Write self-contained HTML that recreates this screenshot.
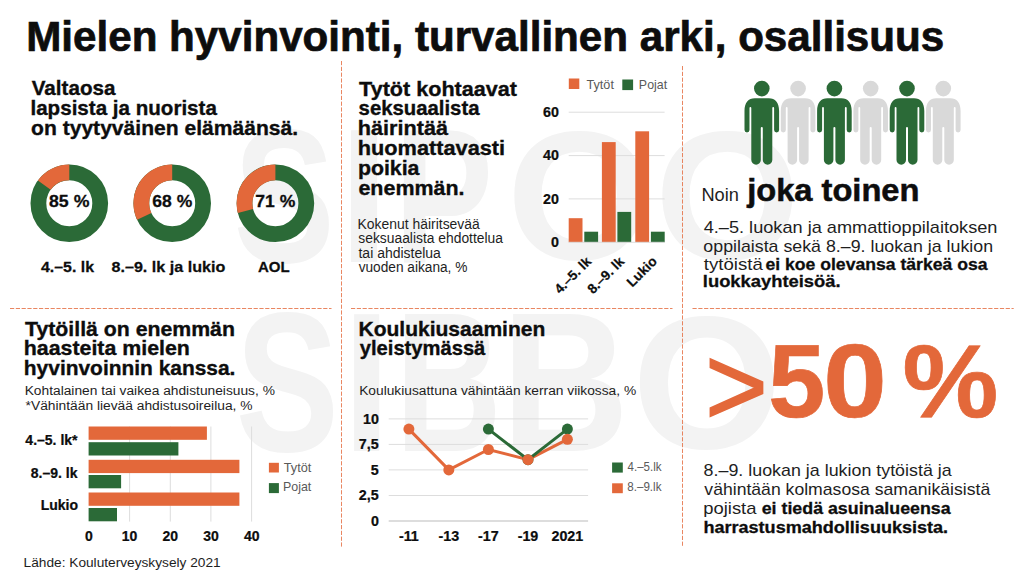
<!DOCTYPE html>
<html><head><meta charset="utf-8"><title>Mielen hyvinvointi</title>
<style>
html,body{margin:0;padding:0;background:#fff;}
body{width:1024px;height:579px;overflow:hidden;}
svg{display:block;font-family:"Liberation Sans",Arial,sans-serif;}
</style></head><body>
<svg width="1024" height="579" viewBox="0 0 1024 579">
<text x="233.62" y="262.00" font-size="192" textLength="101.31" lengthAdjust="spacingAndGlyphs" font-weight="bold" stroke="#F3F3F3" fill="#F3F3F3" stroke-width="0">S</text>
<text x="338.93" y="262.00" font-size="192" textLength="50.15" lengthAdjust="spacingAndGlyphs" font-weight="bold" stroke="#F3F3F3" fill="#F3F3F3" stroke-width="0">I</text>
<text x="394.07" y="262.00" font-size="192" textLength="99.00" lengthAdjust="spacingAndGlyphs" font-weight="bold" stroke="#F3F3F3" fill="#F3F3F3" stroke-width="0">P</text>
<text x="506.83" y="259.20" font-size="183.6" textLength="145.53" lengthAdjust="spacingAndGlyphs" font-weight="bold" stroke="#F3F3F3" fill="#F3F3F3" stroke-width="0">O</text>
<text x="654.83" y="259.20" font-size="183.6" textLength="145.53" lengthAdjust="spacingAndGlyphs" font-weight="bold" stroke="#F3F3F3" fill="#F3F3F3" stroke-width="0">O</text>
<text x="235.53" y="451.00" font-size="198" textLength="103.54" lengthAdjust="spacingAndGlyphs" font-weight="bold" stroke="#F3F3F3" fill="#F3F3F3" stroke-width="0">S</text>
<text x="342.39" y="451.00" font-size="198" textLength="48.22" lengthAdjust="spacingAndGlyphs" font-weight="bold" stroke="#F3F3F3" fill="#F3F3F3" stroke-width="0">I</text>
<text x="395.13" y="451.00" font-size="198" textLength="106.57" lengthAdjust="spacingAndGlyphs" font-weight="bold" stroke="#F3F3F3" fill="#F3F3F3" stroke-width="0">B</text>
<text x="501.15" y="451.00" font-size="198" textLength="127.89" lengthAdjust="spacingAndGlyphs" font-weight="bold" stroke="#F3F3F3" fill="#F3F3F3" stroke-width="0">B</text>
<text x="632.09" y="448.20" font-size="189.3" textLength="150.01" lengthAdjust="spacingAndGlyphs" font-weight="bold" stroke="#F3F3F3" fill="#F3F3F3" stroke-width="0">O</text>
<g stroke="#E3683A" stroke-width="1" stroke-dasharray="4.2 1.6" stroke-opacity="0.8" fill="none">
<line x1="341.5" y1="61" x2="341.5" y2="547"/>
<line x1="682.5" y1="66" x2="682.5" y2="547"/>
<line x1="10" y1="308.5" x2="331.5" y2="308.5"/>
<line x1="351" y1="308.5" x2="672.5" y2="308.5"/>
<line x1="692.5" y1="308.5" x2="1013.7" y2="308.5"/>
</g>
<text x="26.28" y="50.70" font-size="42.2" textLength="917.95" lengthAdjust="spacingAndGlyphs" font-weight="bold" stroke="#0d0d0d" stroke-width="0.72" fill="#0d0d0d">Mielen hyvinvointi, turvallinen arki, osallisuus</text>
<text x="31.76" y="95.30" font-size="21" textLength="83.71" lengthAdjust="spacingAndGlyphs" font-weight="bold" stroke="#0d0d0d" stroke-width="0.36" fill="#0d0d0d">Valtaosa</text>
<text x="30.46" y="115.20" font-size="21" textLength="186.41" lengthAdjust="spacingAndGlyphs" font-weight="bold" stroke="#0d0d0d" stroke-width="0.36" fill="#0d0d0d">lapsista ja nuorista</text>
<text x="31.08" y="135.10" font-size="21" textLength="266.97" lengthAdjust="spacingAndGlyphs" font-weight="bold" stroke="#0d0d0d" stroke-width="0.36" fill="#0d0d0d">on tyytyväinen elämäänsä.</text>
<circle cx="69.3" cy="203.3" r="30.90" fill="none" stroke="#2B6A37" stroke-width="15.80"/>
<path d="M37.91,180.49 A38.8,38.8 0 0 1 69.30,164.50 L69.30,180.30 A23.0,23.0 0 0 0 50.69,189.78 Z" fill="#E3683A"/>
<circle cx="172.2" cy="203.3" r="30.90" fill="none" stroke="#2B6A37" stroke-width="15.80"/>
<path d="M137.09,219.82 A38.8,38.8 0 0 1 172.20,164.50 L172.20,180.30 A23.0,23.0 0 0 0 151.39,213.09 Z" fill="#E3683A"/>
<circle cx="275.4" cy="203.3" r="30.90" fill="none" stroke="#2B6A37" stroke-width="15.80"/>
<path d="M237.82,212.95 A38.8,38.8 0 0 1 275.40,164.50 L275.40,180.30 A23.0,23.0 0 0 0 253.12,209.02 Z" fill="#E3683A"/>
<text x="49.04" y="207.30" font-size="17" textLength="40.33" lengthAdjust="spacingAndGlyphs" font-weight="bold" stroke="#0d0d0d" stroke-width="0.29" fill="#0d0d0d">85 %</text>
<text x="152.36" y="207.30" font-size="17" textLength="39.90" lengthAdjust="spacingAndGlyphs" font-weight="bold" stroke="#0d0d0d" stroke-width="0.29" fill="#0d0d0d">68 %</text>
<text x="255.25" y="207.30" font-size="17" textLength="40.02" lengthAdjust="spacingAndGlyphs" font-weight="bold" stroke="#0d0d0d" stroke-width="0.29" fill="#0d0d0d">71 %</text>
<text x="41.01" y="272.20" font-size="15.5" textLength="52.97" lengthAdjust="spacingAndGlyphs" font-weight="bold" stroke="#0d0d0d" stroke-width="0.26" fill="#0d0d0d">4.–5. lk</text>
<text x="111.49" y="272.20" font-size="15.5" textLength="113.84" lengthAdjust="spacingAndGlyphs" font-weight="bold" stroke="#0d0d0d" stroke-width="0.26" fill="#0d0d0d">8.–9. lk ja lukio</text>
<text x="257.93" y="272.20" font-size="15.5" textLength="31.74" lengthAdjust="spacingAndGlyphs" font-weight="bold" stroke="#0d0d0d" stroke-width="0.26" fill="#0d0d0d">AOL</text>
<text x="359.06" y="95.60" font-size="21" textLength="157.91" lengthAdjust="spacingAndGlyphs" font-weight="bold" stroke="#0d0d0d" stroke-width="0.36" fill="#0d0d0d">Tytöt kohtaavat</text>
<text x="358.59" y="115.30" font-size="21" textLength="120.89" lengthAdjust="spacingAndGlyphs" font-weight="bold" stroke="#0d0d0d" stroke-width="0.36" fill="#0d0d0d">seksuaalista</text>
<text x="357.79" y="135.10" font-size="21" textLength="90.26" lengthAdjust="spacingAndGlyphs" font-weight="bold" stroke="#0d0d0d" stroke-width="0.36" fill="#0d0d0d">häirintää</text>
<text x="357.78" y="155.30" font-size="21" textLength="147.36" lengthAdjust="spacingAndGlyphs" font-weight="bold" stroke="#0d0d0d" stroke-width="0.36" fill="#0d0d0d">huomattavasti</text>
<text x="357.90" y="174.80" font-size="21" textLength="61.57" lengthAdjust="spacingAndGlyphs" font-weight="bold" stroke="#0d0d0d" stroke-width="0.36" fill="#0d0d0d">poikia</text>
<text x="358.46" y="195.00" font-size="21" textLength="106.01" lengthAdjust="spacingAndGlyphs" font-weight="bold" stroke="#0d0d0d" stroke-width="0.36" fill="#0d0d0d">enemmän.</text>
<text x="357.56" y="228.70" font-size="13.8" textLength="122.24" lengthAdjust="spacingAndGlyphs" fill="#1e1e1e">Kokenut häiritsevää</text>
<text x="358.31" y="243.00" font-size="13.8" textLength="144.69" lengthAdjust="spacingAndGlyphs" fill="#1e1e1e">seksuaalista ehdottelua</text>
<text x="358.49" y="257.60" font-size="13.8" textLength="82.41" lengthAdjust="spacingAndGlyphs" fill="#1e1e1e">tai ahdistelua</text>
<text x="358.65" y="271.80" font-size="13.8" textLength="108.73" lengthAdjust="spacingAndGlyphs" fill="#1e1e1e">vuoden aikana, %</text>
<rect x="568.8" y="78.5" width="10.5" height="10.5" fill="#E3683A"/>
<text x="586.52" y="88.70" font-size="12.2" textLength="27.38" lengthAdjust="spacingAndGlyphs" fill="#595959">Tytöt</text>
<rect x="622.3" y="79.5" width="10.8" height="10.6" fill="#2B6A37"/>
<text x="638.88" y="88.70" font-size="12.2" textLength="28.21" lengthAdjust="spacingAndGlyphs" fill="#595959">Pojat</text>
<line x1="568.7" y1="112.2" x2="664.6" y2="112.2" stroke="#DDD" stroke-width="1"/>
<line x1="568.7" y1="155.6" x2="664.6" y2="155.6" stroke="#DDD" stroke-width="1"/>
<line x1="568.7" y1="198.9" x2="664.6" y2="198.9" stroke="#DDD" stroke-width="1"/>
<text x="542.98" y="116.80" font-size="14.3" textLength="15.91" lengthAdjust="spacingAndGlyphs" font-weight="bold" stroke="#0d0d0d" stroke-width="0.24" fill="#0d0d0d">60</text>
<text x="542.98" y="160.17" font-size="14.3" textLength="15.91" lengthAdjust="spacingAndGlyphs" font-weight="bold" stroke="#0d0d0d" stroke-width="0.24" fill="#0d0d0d">40</text>
<text x="542.98" y="203.53" font-size="14.3" textLength="15.91" lengthAdjust="spacingAndGlyphs" font-weight="bold" stroke="#0d0d0d" stroke-width="0.24" fill="#0d0d0d">20</text>
<text x="550.93" y="246.90" font-size="14.3" textLength="7.95" lengthAdjust="spacingAndGlyphs" font-weight="bold" stroke="#0d0d0d" stroke-width="0.24" fill="#0d0d0d">0</text>
<rect x="568.7" y="218.2" width="13.8" height="24.1" fill="#E3683A"/>
<rect x="584.3" y="231.7" width="13.8" height="10.6" fill="#2B6A37"/>
<rect x="601.9" y="142.1" width="13.8" height="100.2" fill="#E3683A"/>
<rect x="617.4" y="211.9" width="13.8" height="30.4" fill="#2B6A37"/>
<rect x="635.3" y="131.3" width="13.8" height="111.0" fill="#E3683A"/>
<rect x="650.9" y="231.7" width="13.8" height="10.6" fill="#2B6A37"/>
<line x1="568.7" y1="242.3" x2="664.6" y2="242.3" stroke="#DDD" stroke-width="1"/>
<text x="-45.38" y="0.00" font-size="13.6" textLength="45.37" lengthAdjust="spacingAndGlyphs" font-weight="bold" stroke="#0d0d0d" stroke-width="0.23" fill="#0d0d0d" transform="translate(592,262.5) rotate(-45)">4.–5. lk</text>
<text x="-45.38" y="0.00" font-size="13.6" textLength="45.37" lengthAdjust="spacingAndGlyphs" font-weight="bold" stroke="#0d0d0d" stroke-width="0.23" fill="#0d0d0d" transform="translate(625,262.5) rotate(-45)">8.–9. lk</text>
<text x="-35.73" y="0.00" font-size="13.6" textLength="36.26" lengthAdjust="spacingAndGlyphs" font-weight="bold" stroke="#0d0d0d" stroke-width="0.23" fill="#0d0d0d" transform="translate(657.5,262.5) rotate(-45)">Lukio</text>
<circle cx="761.8" cy="88.6" r="7.8" fill="#2B6A37"/>
<path transform="translate(761.8,0)" d="M-7,98.3 L7,98.3 C13.5,98.3 17.3,102.5 17.3,111 L17.3,130 A2.5,2.5 0 0 1 12.3,130 L12.3,108 A0.9,0.9 0 0 0 10.5,108 L10.5,160 A4.75,4.75 0 0 1 1,160 L1,128 A1,1 0 0 0 -1,128 L-1,160 A4.75,4.75 0 0 1 -10.5,160 L-10.5,108 A0.9,0.9 0 0 0 -12.3,108 L-12.3,130 A2.5,2.5 0 0 1 -17.3,130 L-17.3,111 C-17.3,102.5 -13.5,98.3 -7,98.3 Z" fill="#2B6A37"/>
<circle cx="798.1" cy="88.6" r="7.8" fill="#D9D9D9"/>
<path transform="translate(798.1,0)" d="M-7,98.3 L7,98.3 C13.5,98.3 17.3,102.5 17.3,111 L17.3,130 A2.5,2.5 0 0 1 12.3,130 L12.3,108 A0.9,0.9 0 0 0 10.5,108 L10.5,160 A4.75,4.75 0 0 1 1,160 L1,128 A1,1 0 0 0 -1,128 L-1,160 A4.75,4.75 0 0 1 -10.5,160 L-10.5,108 A0.9,0.9 0 0 0 -12.3,108 L-12.3,130 A2.5,2.5 0 0 1 -17.3,130 L-17.3,111 C-17.3,102.5 -13.5,98.3 -7,98.3 Z" fill="#D9D9D9"/>
<circle cx="834.4" cy="88.6" r="7.8" fill="#2B6A37"/>
<path transform="translate(834.4,0)" d="M-7,98.3 L7,98.3 C13.5,98.3 17.3,102.5 17.3,111 L17.3,130 A2.5,2.5 0 0 1 12.3,130 L12.3,108 A0.9,0.9 0 0 0 10.5,108 L10.5,160 A4.75,4.75 0 0 1 1,160 L1,128 A1,1 0 0 0 -1,128 L-1,160 A4.75,4.75 0 0 1 -10.5,160 L-10.5,108 A0.9,0.9 0 0 0 -12.3,108 L-12.3,130 A2.5,2.5 0 0 1 -17.3,130 L-17.3,111 C-17.3,102.5 -13.5,98.3 -7,98.3 Z" fill="#2B6A37"/>
<circle cx="870.7" cy="88.6" r="7.8" fill="#D9D9D9"/>
<path transform="translate(870.7,0)" d="M-7,98.3 L7,98.3 C13.5,98.3 17.3,102.5 17.3,111 L17.3,130 A2.5,2.5 0 0 1 12.3,130 L12.3,108 A0.9,0.9 0 0 0 10.5,108 L10.5,160 A4.75,4.75 0 0 1 1,160 L1,128 A1,1 0 0 0 -1,128 L-1,160 A4.75,4.75 0 0 1 -10.5,160 L-10.5,108 A0.9,0.9 0 0 0 -12.3,108 L-12.3,130 A2.5,2.5 0 0 1 -17.3,130 L-17.3,111 C-17.3,102.5 -13.5,98.3 -7,98.3 Z" fill="#D9D9D9"/>
<circle cx="907.0" cy="88.6" r="7.8" fill="#2B6A37"/>
<path transform="translate(907.0,0)" d="M-7,98.3 L7,98.3 C13.5,98.3 17.3,102.5 17.3,111 L17.3,130 A2.5,2.5 0 0 1 12.3,130 L12.3,108 A0.9,0.9 0 0 0 10.5,108 L10.5,160 A4.75,4.75 0 0 1 1,160 L1,128 A1,1 0 0 0 -1,128 L-1,160 A4.75,4.75 0 0 1 -10.5,160 L-10.5,108 A0.9,0.9 0 0 0 -12.3,108 L-12.3,130 A2.5,2.5 0 0 1 -17.3,130 L-17.3,111 C-17.3,102.5 -13.5,98.3 -7,98.3 Z" fill="#2B6A37"/>
<circle cx="943.3" cy="88.6" r="7.8" fill="#D9D9D9"/>
<path transform="translate(943.3,0)" d="M-7,98.3 L7,98.3 C13.5,98.3 17.3,102.5 17.3,111 L17.3,130 A2.5,2.5 0 0 1 12.3,130 L12.3,108 A0.9,0.9 0 0 0 10.5,108 L10.5,160 A4.75,4.75 0 0 1 1,160 L1,128 A1,1 0 0 0 -1,128 L-1,160 A4.75,4.75 0 0 1 -10.5,160 L-10.5,108 A0.9,0.9 0 0 0 -12.3,108 L-12.3,130 A2.5,2.5 0 0 1 -17.3,130 L-17.3,111 C-17.3,102.5 -13.5,98.3 -7,98.3 Z" fill="#D9D9D9"/>
<text x="701.41" y="201.40" font-size="17.5" textLength="37.48" lengthAdjust="spacingAndGlyphs" fill="#1e1e1e">Noin</text>
<text x="747.21" y="201.40" font-size="31" textLength="172.21" lengthAdjust="spacingAndGlyphs" font-weight="bold" stroke="#0d0d0d" stroke-width="0.53" fill="#0d0d0d">joka toinen</text>
<text x="703.68" y="233.00" font-size="17" textLength="293.80" lengthAdjust="spacingAndGlyphs" fill="#1e1e1e">4.–5. luokan ja ammattioppilaitoksen</text>
<text x="703.35" y="251.60" font-size="17" textLength="289.70" lengthAdjust="spacingAndGlyphs" fill="#1e1e1e">oppilaista sekä 8.–9. luokan ja lukion</text>
<text x="703.82" y="270.30" font-size="17" textLength="59.08" lengthAdjust="spacingAndGlyphs" fill="#1e1e1e">tytöistä</text>
<text x="765.41" y="270.30" font-size="17" textLength="222.18" lengthAdjust="spacingAndGlyphs" font-weight="bold" stroke="#0d0d0d" stroke-width="0.29" fill="#0d0d0d">ei koe olevansa tärkeä osa</text>
<text x="702.82" y="286.90" font-size="17" textLength="137.75" lengthAdjust="spacingAndGlyphs" font-weight="bold" stroke="#0d0d0d" stroke-width="0.29" fill="#0d0d0d">luokkayhteisöä.</text>
<text x="25.06" y="335.70" font-size="21" textLength="209.86" lengthAdjust="spacingAndGlyphs" font-weight="bold" stroke="#0d0d0d" stroke-width="0.36" fill="#0d0d0d">Tytöillä on enemmän</text>
<text x="23.81" y="355.40" font-size="21" textLength="166.11" lengthAdjust="spacingAndGlyphs" font-weight="bold" stroke="#0d0d0d" stroke-width="0.36" fill="#0d0d0d">haasteita mielen</text>
<text x="23.84" y="375.10" font-size="21" textLength="211.60" lengthAdjust="spacingAndGlyphs" font-weight="bold" stroke="#0d0d0d" stroke-width="0.36" fill="#0d0d0d">hyvinvoinnin kanssa.</text>
<text x="24.67" y="395.40" font-size="13.7" textLength="250.22" lengthAdjust="spacingAndGlyphs" fill="#1e1e1e">Kohtalainen tai vaikea ahdistuneisuus, %</text>
<text x="25.58" y="410.00" font-size="13.7" textLength="226.91" lengthAdjust="spacingAndGlyphs" fill="#1e1e1e">*Vähintään lievää ahdistusoireilua, %</text>
<line x1="129.6" y1="426.5" x2="129.6" y2="521.6" stroke="#DDD" stroke-width="1"/>
<line x1="170.3" y1="426.5" x2="170.3" y2="521.6" stroke="#DDD" stroke-width="1"/>
<line x1="210.9" y1="426.5" x2="210.9" y2="521.6" stroke="#DDD" stroke-width="1"/>
<line x1="251.6" y1="426.5" x2="251.6" y2="521.6" stroke="#DDD" stroke-width="1"/>
<rect x="88.6" y="426.5" width="118.3" height="13.3" fill="#E3683A"/>
<rect x="88.6" y="442.2" width="89.8" height="13.3" fill="#2B6A37"/>
<rect x="88.6" y="459.8" width="150.8" height="13.3" fill="#E3683A"/>
<rect x="88.6" y="475" width="32.5" height="13.3" fill="#2B6A37"/>
<rect x="88.6" y="492.5" width="150.8" height="13.3" fill="#E3683A"/>
<rect x="88.6" y="508" width="28.4" height="13.3" fill="#2B6A37"/>
<text x="85.12" y="540.60" font-size="14" textLength="7.79" lengthAdjust="spacingAndGlyphs" font-weight="bold" stroke="#0d0d0d" stroke-width="0.24" fill="#0d0d0d">0</text>
<text x="121.71" y="540.60" font-size="14" textLength="15.57" lengthAdjust="spacingAndGlyphs" font-weight="bold" stroke="#0d0d0d" stroke-width="0.24" fill="#0d0d0d">10</text>
<text x="162.56" y="540.60" font-size="14" textLength="15.57" lengthAdjust="spacingAndGlyphs" font-weight="bold" stroke="#0d0d0d" stroke-width="0.24" fill="#0d0d0d">20</text>
<text x="203.29" y="540.60" font-size="14" textLength="15.57" lengthAdjust="spacingAndGlyphs" font-weight="bold" stroke="#0d0d0d" stroke-width="0.24" fill="#0d0d0d">30</text>
<text x="244.00" y="540.60" font-size="14" textLength="15.57" lengthAdjust="spacingAndGlyphs" font-weight="bold" stroke="#0d0d0d" stroke-width="0.24" fill="#0d0d0d">40</text>
<text x="25.36" y="445.30" font-size="14" textLength="52.15" lengthAdjust="spacingAndGlyphs" font-weight="bold" stroke="#0d0d0d" stroke-width="0.24" fill="#0d0d0d">4.–5. lk*</text>
<text x="30.78" y="477.50" font-size="14" textLength="46.70" lengthAdjust="spacingAndGlyphs" font-weight="bold" stroke="#0d0d0d" stroke-width="0.24" fill="#0d0d0d">8.–9. lk</text>
<text x="40.72" y="510.40" font-size="14" textLength="37.33" lengthAdjust="spacingAndGlyphs" font-weight="bold" stroke="#0d0d0d" stroke-width="0.24" fill="#0d0d0d">Lukio</text>
<rect x="268.9" y="462.8" width="10" height="9.7" fill="#E3683A"/>
<text x="283.71" y="471.60" font-size="13" textLength="27.58" lengthAdjust="spacingAndGlyphs" fill="#595959">Tytöt</text>
<rect x="268.9" y="483.1" width="10" height="10" fill="#2B6A37"/>
<text x="282.98" y="491.30" font-size="13" textLength="28.31" lengthAdjust="spacingAndGlyphs" fill="#595959">Pojat</text>
<text x="23.58" y="566.90" font-size="13.6" textLength="197.09" lengthAdjust="spacingAndGlyphs" fill="#1e1e1e">Lähde: Kouluterveyskysely 2021</text>
<text x="358.49" y="335.70" font-size="21" textLength="186.81" lengthAdjust="spacingAndGlyphs" font-weight="bold" stroke="#0d0d0d" stroke-width="0.36" fill="#0d0d0d">Koulukiusaaminen</text>
<text x="359.74" y="355.40" font-size="21" textLength="125.61" lengthAdjust="spacingAndGlyphs" font-weight="bold" stroke="#0d0d0d" stroke-width="0.36" fill="#0d0d0d">yleistymässä</text>
<text x="359.17" y="394.70" font-size="13.7" textLength="277.02" lengthAdjust="spacingAndGlyphs" fill="#1e1e1e">Koulukiusattuna vähintään kerran viikossa, %</text>
<line x1="388.7" y1="418.9" x2="588.1" y2="418.9" stroke="#DDD" stroke-width="1"/>
<line x1="388.7" y1="444.4" x2="588.1" y2="444.4" stroke="#DDD" stroke-width="1"/>
<line x1="388.7" y1="469.9" x2="588.1" y2="469.9" stroke="#DDD" stroke-width="1"/>
<line x1="388.7" y1="495.5" x2="588.1" y2="495.5" stroke="#DDD" stroke-width="1"/>
<line x1="388.7" y1="521" x2="588.1" y2="521" stroke="#BBB" stroke-width="1"/>
<text x="362.98" y="423.80" font-size="14.3" textLength="15.91" lengthAdjust="spacingAndGlyphs" font-weight="bold" stroke="#0d0d0d" stroke-width="0.24" fill="#0d0d0d">10</text>
<text x="358.82" y="449.32" font-size="14.3" textLength="19.88" lengthAdjust="spacingAndGlyphs" font-weight="bold" stroke="#0d0d0d" stroke-width="0.24" fill="#0d0d0d">7,5</text>
<text x="370.75" y="474.85" font-size="14.3" textLength="7.95" lengthAdjust="spacingAndGlyphs" font-weight="bold" stroke="#0d0d0d" stroke-width="0.24" fill="#0d0d0d">5</text>
<text x="358.82" y="500.38" font-size="14.3" textLength="19.88" lengthAdjust="spacingAndGlyphs" font-weight="bold" stroke="#0d0d0d" stroke-width="0.24" fill="#0d0d0d">2,5</text>
<text x="370.93" y="525.90" font-size="14.3" textLength="7.95" lengthAdjust="spacingAndGlyphs" font-weight="bold" stroke="#0d0d0d" stroke-width="0.24" fill="#0d0d0d">0</text>
<text x="398.88" y="541.40" font-size="14.3" textLength="19.88" lengthAdjust="spacingAndGlyphs" font-weight="bold" stroke="#0d0d0d" stroke-width="0.24" fill="#0d0d0d">-11</text>
<text x="438.45" y="541.40" font-size="14.3" textLength="20.67" lengthAdjust="spacingAndGlyphs" font-weight="bold" stroke="#0d0d0d" stroke-width="0.24" fill="#0d0d0d">-13</text>
<text x="478.10" y="541.40" font-size="14.3" textLength="20.67" lengthAdjust="spacingAndGlyphs" font-weight="bold" stroke="#0d0d0d" stroke-width="0.24" fill="#0d0d0d">-17</text>
<text x="517.65" y="541.40" font-size="14.3" textLength="20.67" lengthAdjust="spacingAndGlyphs" font-weight="bold" stroke="#0d0d0d" stroke-width="0.24" fill="#0d0d0d">-19</text>
<text x="551.45" y="541.40" font-size="14.3" textLength="31.81" lengthAdjust="spacingAndGlyphs" font-weight="bold" stroke="#0d0d0d" stroke-width="0.24" fill="#0d0d0d">2021</text>
<polyline points="408.9,429.1 448.8,469.9 488.4,449.5 528.0,459.7 567.4,439.3" fill="none" stroke="#E3683A" stroke-width="3"/>
<polyline points="488.4,429.1 528.0,459.7 567.4,429.1" fill="none" stroke="#2B6A37" stroke-width="3"/>
<circle cx="488.4" cy="429.1" r="5.5" fill="#2B6A37"/>
<circle cx="528.0" cy="459.7" r="5.5" fill="#2B6A37"/>
<circle cx="567.4" cy="429.1" r="5.5" fill="#2B6A37"/>
<circle cx="408.9" cy="429.1" r="5.5" fill="#E3683A"/>
<circle cx="448.8" cy="469.9" r="5.5" fill="#E3683A"/>
<circle cx="488.4" cy="449.5" r="5.5" fill="#E3683A"/>
<circle cx="528.0" cy="459.7" r="5.5" fill="#E3683A"/>
<circle cx="567.4" cy="439.3" r="5.5" fill="#E3683A"/>
<rect x="612.1" y="462.5" width="10.7" height="10.1" fill="#2B6A37"/>
<text x="627.54" y="470.90" font-size="12.5" textLength="33.95" lengthAdjust="spacingAndGlyphs" fill="#595959">4.–5.lk</text>
<rect x="612.1" y="483.3" width="10.7" height="9.9" fill="#E3683A"/>
<text x="627.30" y="490.60" font-size="12.5" textLength="34.19" lengthAdjust="spacingAndGlyphs" fill="#595959">8.–9.lk</text>
<text x="705.04" y="424.80" font-size="113.2" textLength="62.87" lengthAdjust="spacingAndGlyphs" fill="#E3683A" stroke="#E3683A" stroke-width="1.5">&gt;</text>
<text x="768.35" y="417.10" font-size="104.6" textLength="57.01" lengthAdjust="spacingAndGlyphs" font-weight="bold" stroke="#E3683A" fill="#E3683A" stroke-width="0.7">5</text>
<text x="823.28" y="417.10" font-size="104.6" textLength="63.50" lengthAdjust="spacingAndGlyphs" font-weight="bold" stroke="#E3683A" fill="#E3683A" stroke-width="0.7">0</text>
<text x="902.52" y="417.10" font-size="104.6" textLength="95.83" lengthAdjust="spacingAndGlyphs" font-weight="bold" stroke="#E3683A" fill="#E3683A" stroke-width="0.7">%</text>
<text x="703.62" y="475.60" font-size="17" textLength="248.08" lengthAdjust="spacingAndGlyphs" fill="#1e1e1e">8.–9. luokan ja lukion tytöistä ja</text>
<text x="704.34" y="495.00" font-size="17" textLength="285.86" lengthAdjust="spacingAndGlyphs" fill="#1e1e1e">vähintään kolmasosa samanikäisistä</text>
<text x="703.21" y="513.70" font-size="17" textLength="53.29" lengthAdjust="spacingAndGlyphs" fill="#1e1e1e">pojista</text>
<text x="761.70" y="513.70" font-size="17" textLength="188.98" lengthAdjust="spacingAndGlyphs" font-weight="bold" stroke="#0d0d0d" stroke-width="0.29" fill="#0d0d0d">ei tiedä asuinalueensa</text>
<text x="703.44" y="532.50" font-size="17" textLength="244.70" lengthAdjust="spacingAndGlyphs" font-weight="bold" stroke="#0d0d0d" stroke-width="0.29" fill="#0d0d0d">harrastusmahdollisuuksista.</text>
</svg>
</body></html>
